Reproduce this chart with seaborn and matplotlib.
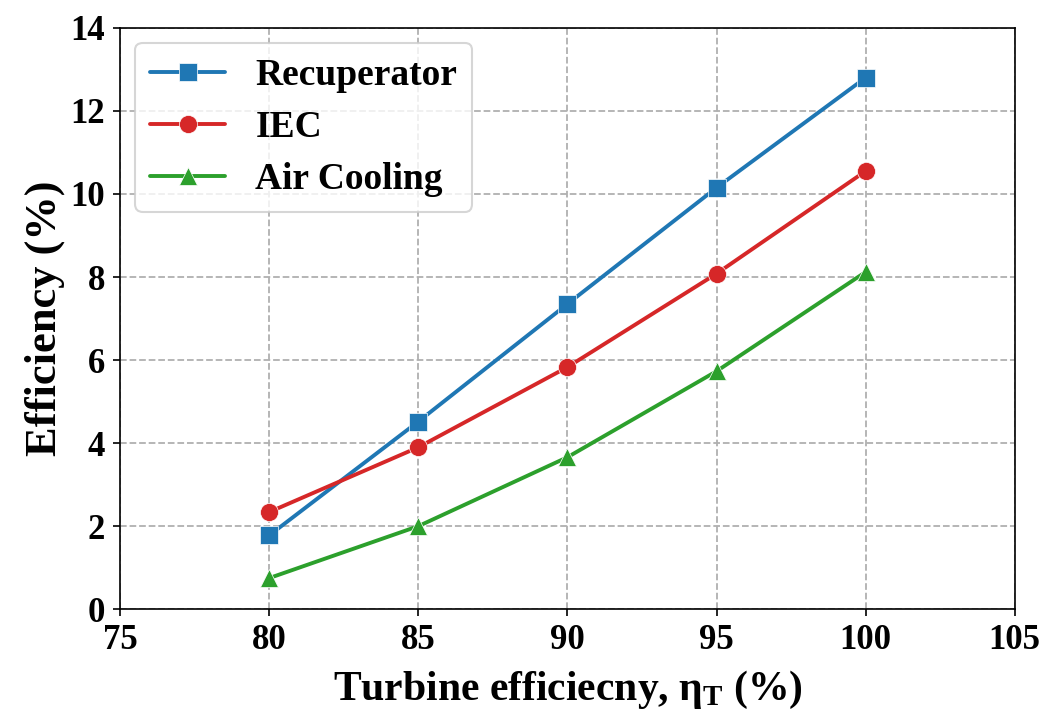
import matplotlib
matplotlib.use("Agg")
import matplotlib.pyplot as plt
import seaborn as sns
import pandas as pd

turbine_eff = [80, 85, 90, 95, 100]
recuperator = [1.78, 4.52, 7.35, 10.15, 12.80]
iec = [2.34, 3.90, 5.83, 8.08, 10.55]
air_cooling = [0.75, 2.00, 3.66, 5.73, 8.12]

series_names = ["Recuperator", "IEC", "Air Cooling"]
colors = ["#1f77b4", "#d62728", "#2ca02c"]
markers = ["s", "o", "^"]

df = pd.concat([
    pd.DataFrame({"eta": turbine_eff, "eff": vals, "case": name})
    for name, vals in zip(series_names, [recuperator, iec, air_cooling])
])

sns.set_style("ticks")
plt.rcParams["font.family"] = ["Liberation Serif", "DejaVu Serif"]
plt.rcParams["font.weight"] = "bold"
plt.rcParams["text.color"] = "black"
plt.rcParams["axes.labelcolor"] = "black"
plt.rcParams["xtick.color"] = "black"
plt.rcParams["ytick.color"] = "black"
plt.rcParams["mathtext.fontset"] = "custom"
plt.rcParams["mathtext.rm"] = "Liberation Serif:bold"
plt.rcParams["mathtext.it"] = "Liberation Serif:bold"
plt.rcParams["mathtext.bf"] = "Liberation Serif:bold"

fig = plt.figure(figsize=(10.46, 7.15), dpi=100)
ax = fig.add_axes([0.115, 0.148, 0.855, 0.813])

sns.lineplot(data=df, x="eta", y="eff", hue="case", style="case",
             hue_order=series_names, style_order=series_names,
             palette=colors, markers=markers, dashes=False,
             linewidth=2.8, markersize=13, markeredgewidth=0.5,
             ax=ax)

ax.set_xlim(75, 105)
ax.set_ylim(0, 14)
ax.set_xticks(range(75, 106, 5))
ax.set_yticks(range(0, 15, 2))
ax.grid(True, linestyle="--", color="#b0b0b0", linewidth=1.3)
ax.tick_params(axis="both", labelsize=25, direction="out", length=5, width=1.2,
               pad=6)
for lab in ax.get_xticklabels() + ax.get_yticklabels():
    lab.set_fontweight("bold")
for s in ax.spines.values():
    s.set_linewidth(1.2)
    s.set_color("black")

ax.set_xlabel(r"Turbine efficiecny, $\mathregular{\eta_T}$ (%)", fontsize=30,
              fontweight="bold", labelpad=8)
ax.set_ylabel("Efficiency (%)", fontsize=32, fontweight="bold", labelpad=4)

leg = ax.legend(loc="upper left", frameon=True, handlelength=2.0,
                borderpad=0.4, labelspacing=0.45, handletextpad=0.8,
                prop={"weight": "bold", "size": 27}, borderaxespad=0.4)
leg.get_frame().set_edgecolor("#cccccc")
leg.get_frame().set_linewidth(1.5)

fig.savefig("out.png", dpi=100)
